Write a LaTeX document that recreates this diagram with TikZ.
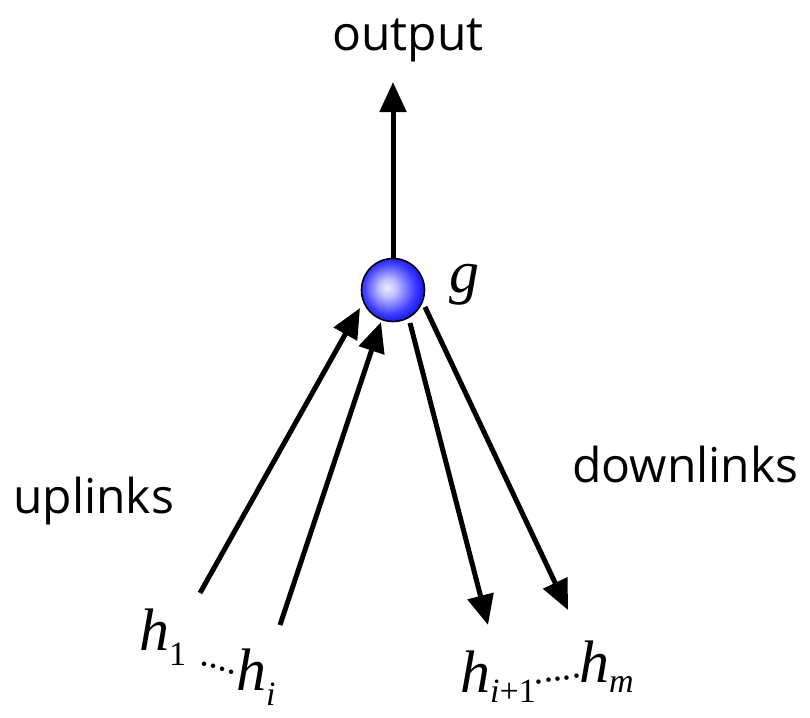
\documentclass[tikz,border=0pt]{standalone}
\usepackage{fontspec}
\setmainfont{Open Sans}
\newfontfamily\tms{Liberation Serif}
\newfontfamily\tmsit{Liberation Serif Italic}
\usetikzlibrary{arrows.meta}

% soft blue sphere for the combining unit
\pgfdeclareradialshading{unitball}{\pgfpoint{-5bp}{2bp}}{%
  color(0bp)=(blue!7);
  color(7bp)=(blue!25);
  color(20bp)=(blue!75);
  color(30bp)=(blue!100);
  color(50bp)=(blue!100)}

\newcommand{\hsub}[2]{{\fontsize{34pt}{34pt}\selectfont\raisebox{-#1pt}{#2}}}

\tikzset{
  link/.style={line width=5pt, -{Triangle[length=30pt,width=26pt]}},
  lbl/.style={font=\fontsize{48pt}{48pt}\selectfont, inner sep=0pt},
  var/.style={font=\fontsize{60pt}{60pt}\selectfont, inner sep=0pt, anchor=base west},
  dotrow/.style={font=\tms\fontsize{38pt}{38pt}\selectfont, inner sep=0pt},
}

\begin{document}
\begin{tikzpicture}[x=1pt,y=-1pt]
\useasboundingbox (0,0) rectangle (810,717);

% combining unit
\node[circle, minimum size=63pt, inner sep=0pt, draw=black, line width=1.6pt,
      shading=unitball] (g) at (393,290) {};
\node[var] (glabel) at (449,292) {\tmsit g};

% output
\coordinate (outtip) at (393,82);
\draw[link] (g.north) -- (outtip);
\node[lbl, anchor=base] (output) at (408,50) {output};

% uplinks
\coordinate (u1s) at (200,593);
\coordinate (u1e) at (360,308);
\coordinate (u2s) at (280,625);
\coordinate (u2e) at (381,322);
\draw[link] (u1s) -- (u1e);
\draw[link] (u2s) -- (u2e);
\node[lbl, anchor=base west] (uplinks) at (13,513) {uplinks};

% downlinks
\coordinate (d1s) at (410,323);
\coordinate (d1e) at (488,625);
\coordinate (d2s) at (425,307);
\coordinate (d2e) at (568,610);
\draw[link] (d1s) -- (d1e);
\draw[link] (d2s) -- (d2e);
\node[lbl, anchor=base west] (downlinks) at (572,482) {downlinks};

% hidden units
\node[var] (h1) at (139,650) {\tmsit h\hsub{15}{\tms 1}};
\node[dotrow, rotate=-17] (ldots) at (218,668) {....};
\node[var] (hi) at (236,690) {\tmsit h\hsub{15}{\tmsit i}};
\node[var] (hip) at (460,692) {\tmsit h\hsub{10}{\tmsit i\tms +1}};
\node[dotrow, rotate=8] (rdots) at (558,679) {.....};
\node[var] (hm) at (579,682) {\tmsit h\hsub{10}{\tmsit m}};
\end{tikzpicture}
\end{document}
